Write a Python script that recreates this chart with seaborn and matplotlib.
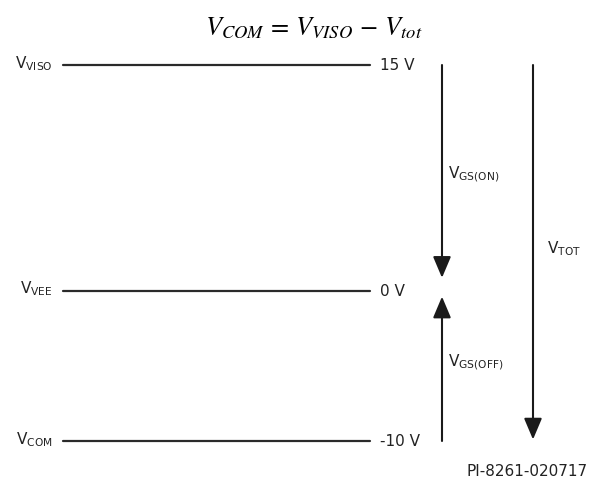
import matplotlib
matplotlib.use("Agg")
import matplotlib.pyplot as plt
import pandas as pd
import seaborn as sns

# voltage levels (left labels, value labels)
level_names = ["VISO", "VEE", "COM"]
level_volts = [15, 0, -10]
level_values = ["15 V", "0 V", "-10 V"]

# arrows between levels
arrow_names = ["GS(ON)", "GS(OFF)", "TOT"]
arrow_start = [15, -10, 15]
arrow_end = [0, 0, -10]

title = r"$V_{COM}\,=\,V_{VISO}\,-\,V_{tot}$"
footer = "PI-8261-020717"

# layout (pixels on a 591x479 canvas)
W, H = 591, 479
PX_PER_V = 15.04
Y15 = 65  # pixel row of the 15 V line
line_x0, line_x1 = 63, 370
arrow_x = {"GS(ON)": 442, "GS(OFF)": 442, "TOT": 533}
tip_gap = {"GS(ON)": 0.85, "GS(OFF)": -0.4, "TOT": 0.1}
label_x = {"GS(ON)": 448, "GS(OFF)": 448, "TOT": 547}
ink = "#222222"

sns.set_theme(style="white")
plt.rcParams["font.family"] = ["DejaVu Sans"]

fig = plt.figure(figsize=(W / 100, H / 100), dpi=100)
ax = fig.add_axes([0, 0, 1, 1])
ax.set_xlim(0, W)
ax.set_ylim(15 - (H - Y15) / PX_PER_V, 15 + Y15 / PX_PER_V)
ax.axis("off")

lines = pd.DataFrame({
    "level": [n for n in level_names for _ in range(2)],
    "x": [line_x0, line_x1] * len(level_names),
    "v": [v for v in level_volts for _ in range(2)],
})
sns.lineplot(data=lines, x="x", y="v", units="level", estimator=None,
             color="#2a2a2a", linewidth=1.6, ax=ax, legend=False)

for name, v, val in zip(level_names, level_volts, level_values):
    ax.annotate(r"$\mathregular{V_{%s}}$" % name, xy=(53, v), xytext=(0, -2.2),
                textcoords="offset points", ha="right", va="baseline",
                fontsize=11, color=ink, math_fontfamily="dejavusans")
    ax.annotate(val, xy=(380, v), xytext=(0, -3.8), textcoords="offset points",
                ha="left", va="baseline", fontsize=11, color=ink)

for name, v0, v1 in zip(arrow_names, arrow_start, arrow_end):
    x = arrow_x[name]
    tip = v1 + tip_gap[name]
    ax.annotate("", xy=(x, tip), xytext=(x, v0),
                arrowprops=dict(arrowstyle="-|>,head_length=1.3,head_width=0.55",
                                mutation_scale=10, color="#1a1a1a", lw=1.5,
                                shrinkA=0, shrinkB=0))
    ax.text(label_x[name], (v0 + v1) / 2, r"$\mathregular{V_{%s}}$" % name,
            ha="left", va="baseline", fontsize=11, color=ink,
            math_fontfamily="dejavusans")

fig.text(314 / W, 1 - 35 / H, title, ha="center", va="baseline",
         fontsize=19, color="black", math_fontfamily="stix")
fig.text(588 / W, 1 - 476 / H, footer, ha="right", va="baseline",
         fontsize=11, color=ink)

fig.savefig("out.png", dpi=100)
